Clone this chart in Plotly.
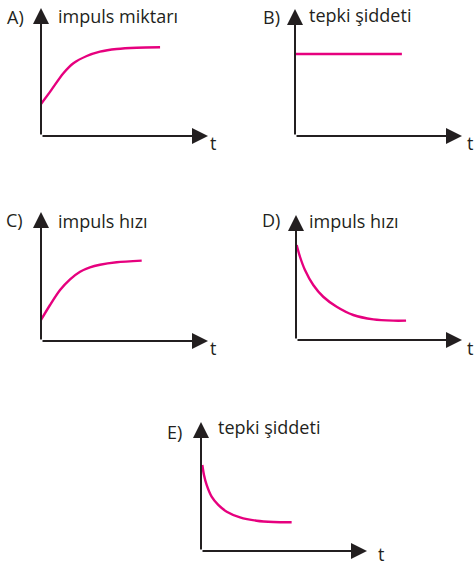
import plotly.graph_objects as go

W, H = 475, 566

# ---- data (arbitrary units) ----
letters = ["A)", "B)", "C)", "D)", "E)"]
quantities = ["impuls miktarı", "tepki şiddeti", "impuls hızı", "impuls hızı", "tepki şiddeti"]
time_label = "t"

t_a = [0, 0.54, 1.34, 1.94, 2.74, 3.53, 4.53, 5.73, 7.13]
y_a = [2.5, 3.45, 4.9, 5.68, 6.25, 6.59, 6.8, 6.9, 6.93]

t_b = [0, 6.4]
y_b = [6.46, 6.46]

t_c = [0, 0.54, 1.14, 1.74, 2.34, 2.93, 3.53, 4.53, 6.03]
y_c = [1.63, 2.79, 3.95, 4.78, 5.37, 5.71, 5.91, 6.1, 6.23]

t_d = [0.04, 0.24, 0.54, 1.04, 1.64, 2.45, 3.45, 4.66, 5.86, 6.63]
y_d = [7.6, 6.66, 5.6, 4.4, 3.46, 2.66, 2.0, 1.65, 1.55, 1.55]

t_e = [0.08, 0.18, 0.34, 0.64, 1.04, 1.55, 2.35, 3.35, 4.36, 5.46]
y_e = [6.67, 5.89, 5.12, 4.21, 3.57, 3.05, 2.61, 2.35, 2.25, 2.23]

series = [(t_a, y_a), (t_b, y_b), (t_c, y_c), (t_d, y_d), (t_e, y_e)]

# ---- layout geometry (pixels): origin x, origin y, x-arrow tip, y-arrow tip ----
boxes = [(41, 136, 208, 8), (295, 136, 462, 9), (41, 341, 208, 212),
         (296, 340, 462, 215), (201, 551, 367, 422)]
# letter (right edge x, center y), quantity (left x, center y), t (left x, center y)
letter_pos = [(26, 17), (282, 17), (25, 220), (282, 220), (184, 432)]
qty_pos = [(56, 16), (307, 15), (56, 221), (307, 221), (216, 427)]
t_pos = [(209, 143), (466, 143), (209, 348), (466, 348), (377, 554)]

AX = 10.0
INK = "#231f20"
MAG = "#e6007e"
FONT = "Open Sans"
FS = 18

fig = go.Figure()
layout = dict(width=W, height=H, margin=dict(l=0, r=0, t=0, b=0),
              paper_bgcolor="white", plot_bgcolor="rgba(0,0,0,0)",
              showlegend=False)
annotations = []

def px(x):
    return x / W

def py(y):
    return 1 - y / H

for i, ((ox, oy, xt, yt), (tt, yy)) in enumerate(zip(boxes, series)):
    n = "" if i == 0 else str(i + 1)
    xa, ya = "x" + n, "y" + n
    layout["xaxis" + n] = dict(domain=[px(ox), px(xt)], range=[0, AX], visible=False,
                               anchor=ya, fixedrange=True)
    layout["yaxis" + n] = dict(domain=[py(oy), py(yt)], range=[0, AX], visible=False,
                               anchor=xa, fixedrange=True)
    fig.add_trace(go.Scatter(x=tt, y=yy, mode="lines", xaxis=xa, yaxis=ya,
                             line=dict(color=MAG, width=2.4, shape="spline", smoothing=0.8),
                             hoverinfo="skip"))
    # axes with arrowheads
    for (x1, y1) in [(AX, 0), (0, AX)]:
        annotations.append(dict(x=x1, y=y1, ax=0, ay=0, xref=xa, yref=ya,
                                axref=xa, ayref=ya, showarrow=True, arrowhead=2,
                                arrowsize=1.6, arrowwidth=2, arrowcolor=INK,
                                standoff=0, startstandoff=0, text=""))
    lx, ly = letter_pos[i]
    annotations.append(dict(x=px(lx), y=py(ly), xref="paper", yref="paper",
                            text=letters[i], showarrow=False, xanchor="right",
                            yanchor="middle", font=dict(family=FONT, size=FS, color=INK)))
    qx, qy = qty_pos[i]
    annotations.append(dict(x=px(qx), y=py(qy), xref="paper", yref="paper",
                            text=quantities[i], showarrow=False, xanchor="left",
                            yanchor="middle", font=dict(family=FONT, size=FS, color=INK)))
    tx, ty = t_pos[i]
    annotations.append(dict(x=px(tx), y=py(ty), xref="paper", yref="paper",
                            text=time_label, showarrow=False, xanchor="left",
                            yanchor="middle", borderpad=0,
                            font=dict(family=FONT, size=FS, color=INK)))

layout["annotations"] = annotations
fig.update_layout(**layout)
fig.write_html("out.html", config={"staticPlot": True},
               post_script="document.body.style.margin='0';document.body.style.overflow='hidden';")
